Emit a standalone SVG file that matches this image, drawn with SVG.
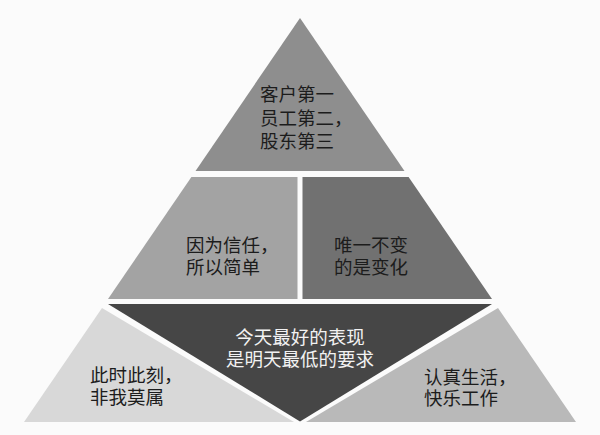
<svg xmlns="http://www.w3.org/2000/svg" width="600" height="435" viewBox="0 0 600 435">
<style>
text{font-family:"Noto Sans CJK SC","Noto Sans CJK JP",sans-serif;font-size:18.5px;fill:#1c1c1c}
.w{fill:#f2f2f2}
</style>
<rect width="600" height="435" fill="#fbfbfb"/>
<g id="top">
<polygon points="300,18 195.5,171 404.5,171" fill="#8e8e8e"/>
<text x="260" y="100.5"><tspan x="260">客户第一</tspan><tspan x="260" dy="24">员工第二，</tspan><tspan x="260" dy="23.5">股东第三</tspan></text>
</g>
<g id="mid-left">
<polygon points="191.4,177 297.5,177 297.5,299 108,299" fill="#a3a3a3"/>
<text x="186" y="252"><tspan x="186">因为信任，</tspan><tspan x="186" dy="21.5">所以简单</tspan></text>
</g>
<g id="mid-right">
<polygon points="302.5,177 408.6,177 492,299 302.5,299" fill="#717171"/>
<text x="334" y="252"><tspan x="334">唯一不变</tspan><tspan x="334" dy="21.5">的是变化</tspan></text>
</g>
<g id="bottom-center">
<polygon points="108,304 492,304 300,421.5" fill="#464646"/>
<text class="w" x="300" y="344" text-anchor="middle"><tspan x="300">今天最好的表现</tspan><tspan x="300" dy="22">是明天最低的要求</tspan></text>
</g>
<g id="bottom-left">
<polygon points="102,308 24,422 294,422" fill="#d8d8d8"/>
<text x="90" y="382"><tspan x="90">此时此刻，</tspan><tspan x="90" dy="22">非我莫属</tspan></text>
</g>
<g id="bottom-right">
<polygon points="498,308 576,422 306,422" fill="#b9b9b9"/>
<text x="424" y="384"><tspan x="424">认真生活，</tspan><tspan x="424" dy="21">快乐工作</tspan></text>
</g>
<g id="connectors"></g>
</svg>
